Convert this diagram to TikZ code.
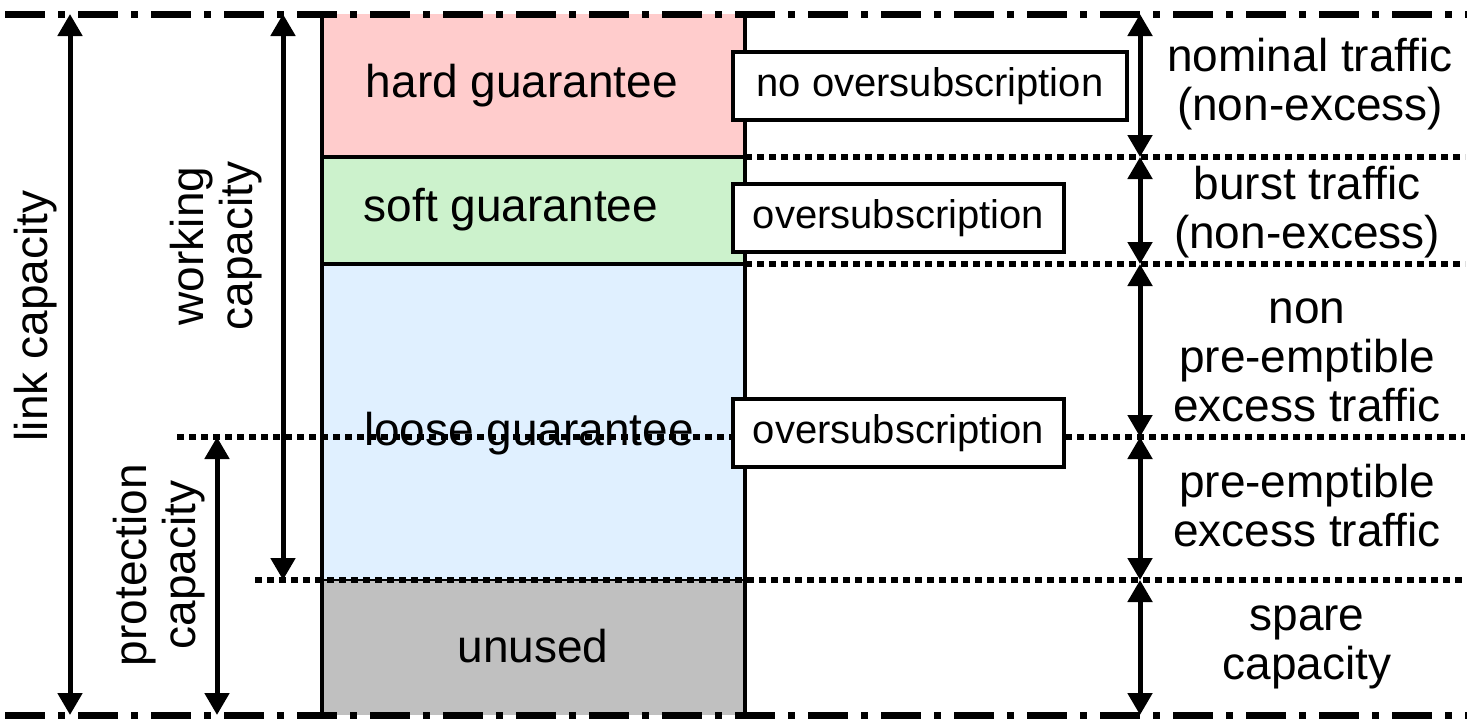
\documentclass[tikz,border=0pt]{standalone}
\usepackage{fontspec}
\setmainfont{Liberation Sans}
\usetikzlibrary{arrows.meta}
\definecolor{hardc}{RGB}{255,204,204}
\definecolor{softc}{RGB}{204,242,204}
\definecolor{loosec}{RGB}{224,240,255}
\definecolor{unusedc}{RGB}{192,192,192}
\begin{document}
\begin{tikzpicture}[x=1pt,y=-1pt,
  lbl/.style={font=\fontsize{46}{49}\selectfont, inner sep=0pt, align=center},
  bandline/.style={draw=black, line width=4.5pt},
  dimarrow/.style={line width=5pt, {Triangle[width=24pt,length=22pt]}-{Triangle[width=24pt,length=22pt]}},
  dotline/.style={line width=5.5pt, dash pattern=on 7pt off 5pt},
  dashdot/.style={line width=7pt, dash pattern=on 40pt off 13pt on 7pt off 13pt},
  osbox/.style={draw, line width=4pt, fill=white, font=\fontsize{40}{48}\selectfont, minimum height=68pt, inner xsep=0pt, anchor=west}]
\useasboundingbox (0,0) rectangle (1472,718);
% bands
\fill[hardc] (322,14) rectangle (745,157);
\fill[softc] (322,157) rectangle (745,264);
\fill[loosec] (322,264) rectangle (745,580);
\fill[unusedc] (322,580) rectangle (745,715);
% coordinates
\coordinate (dA0) at (745,157); \coordinate (dA1) at (1465,157);
\coordinate (dB0) at (745,264); \coordinate (dB1) at (1465,264);
\coordinate (dC0) at (177,437); \coordinate (dC1) at (1465,437);
\coordinate (dD0) at (255,580); \coordinate (dD1) at (1465,580);
\coordinate (top0) at (5,14); \coordinate (top1) at (1467,14);
\coordinate (bot0) at (5,715); \coordinate (bot1) at (1467,715);
% band borders
\draw[bandline] (322,14) -- (322,715);
\draw[bandline] (745,14) -- (745,715);
\draw[bandline] (322,157) -- (745,157);
\draw[bandline] (322,264) -- (745,264);
\draw[line width=2pt] (322,580) -- (745,580);
% band texts
\node[lbl] (hard) at (522,86) {hard guarantee};
\node[lbl] (soft) at (511,210) {soft guarantee};
\node[lbl] (loose) at (529,434) {loose guarantee};
\node[lbl] (unused) at (533,646) {unused};
% dotted lines
\draw[dotline] (dA0) -- (dA1);
\draw[dotline] (dB0) -- (dB1);
\draw[dotline] (dC0) -- (dC1);
\draw[dotline] (dD0) -- (dD1);
% boxes
\node[osbox, minimum width=394pt] (nos) at (731,86) {no oversubscription};
\node[osbox, minimum width=331pt] (os1) at (731,218) {oversubscription};
\node[osbox, minimum width=331pt] (os2) at (731,433) {oversubscription};
% arrow end coordinates
\coordinate (lkT) at (70,14); \coordinate (lkB) at (70,715);
\coordinate (wkT) at (283,14); \coordinate (wkB) at (283,580);
\coordinate (prT) at (217,437); \coordinate (prB) at (217,715);
\coordinate (r0) at (1140,14); \coordinate (r1) at (1140,157);
\coordinate (r2) at (1140,264); \coordinate (r3) at (1140,437);
\coordinate (r4) at (1140,580); \coordinate (r5) at (1140,715);
\draw[dimarrow] (lkT) -- (lkB);
\draw[dimarrow] (wkT) -- (wkB);
\draw[dimarrow] (prT) -- (prB);
\draw[dimarrow] (r0) -- (r1);
\draw[dimarrow] (r1) -- (r2);
\draw[dimarrow] (r2) -- (r3);
\draw[dimarrow] (r3) -- (r4);
\draw[dimarrow] (r4) -- (r5);
% left labels
\node[lbl, rotate=90] (linkcap) at (36,316) {link capacity};
\node[lbl, rotate=90] (workcap) at (216,246) {working\\capacity};
\node[lbl, rotate=90] (protcap) at (159,565) {protection\\capacity};
% right labels
\node[lbl] (nom) at (1310,84) {nominal traffic\\(non-excess)};
\node[lbl] (burst) at (1307,212) {burst traffic\\(non-excess)};
\node[lbl] (npre) at (1307,360) {non\\pre-emptible\\excess traffic};
\node[lbl] (pre) at (1307,506) {pre-emptible\\excess traffic};
\node[lbl] (spare) at (1307,647) {spare\\capacity};
% dash-dot boundary lines
\draw[dashdot] (top0) -- (top1);
\draw[dashdot] (bot0) -- (bot1);
\end{tikzpicture}
\end{document}
